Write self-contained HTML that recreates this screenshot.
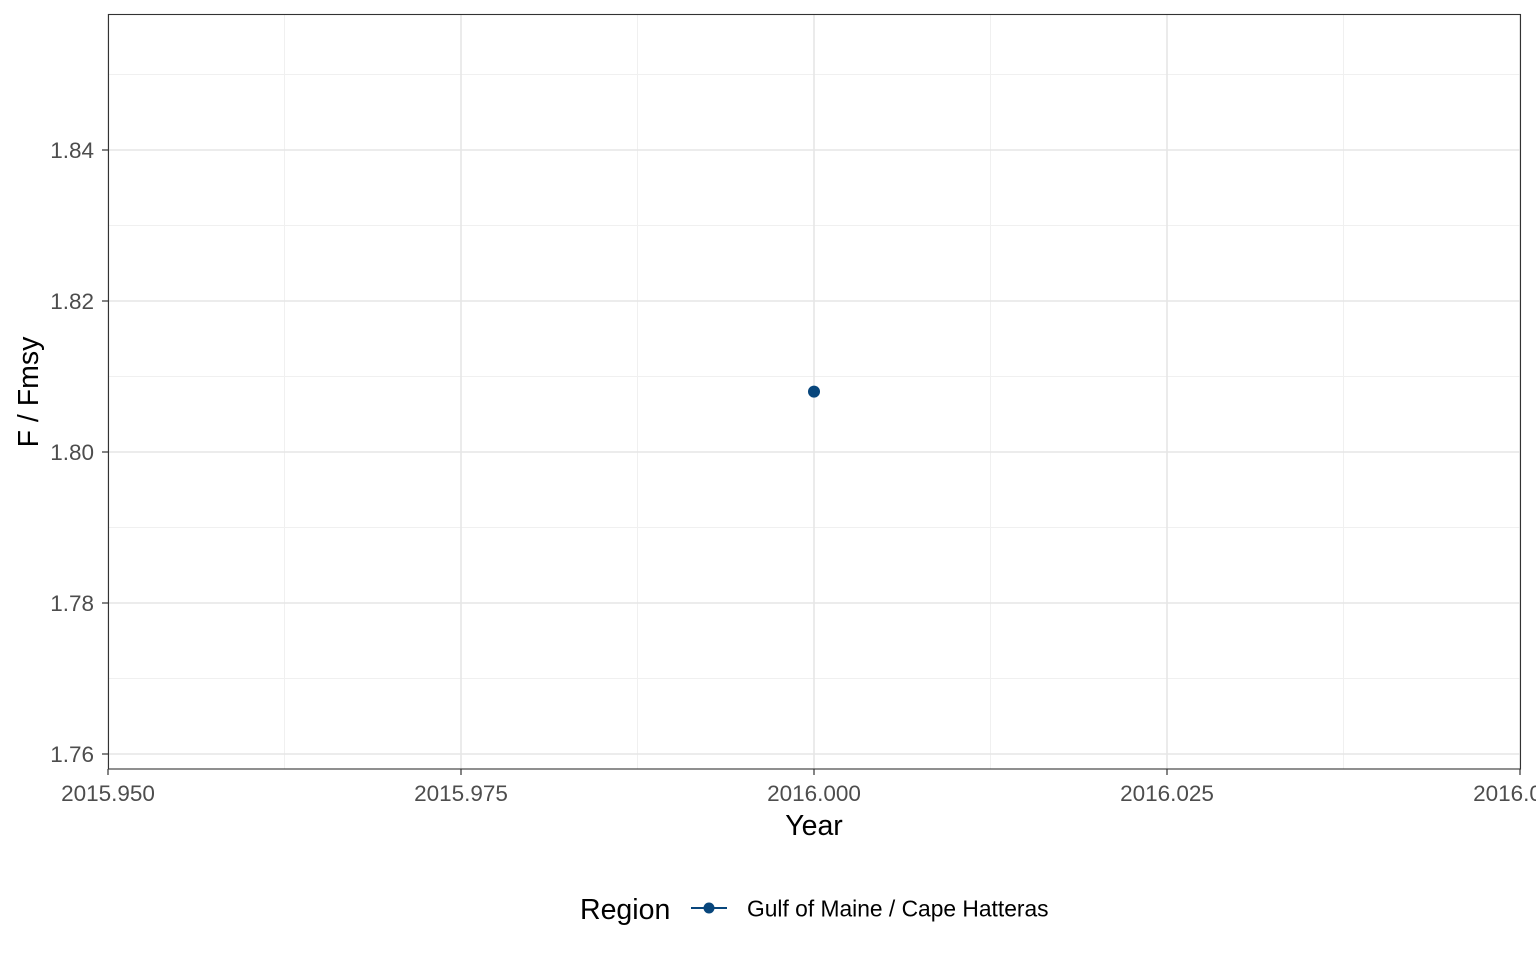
<!DOCTYPE html>
<html><head><meta charset="utf-8">
<style>
html,body{margin:0;padding:0;background:#fff;}
svg{display:block;font-family:"Liberation Sans",Arial,sans-serif;}
</style></head>
<body>
<svg id="chart" width="1536" height="960" viewBox="0 0 1536 960">
<g id="grid"></g>
<g id="marks"></g>
<rect x="108.5" y="14.5" width="1412" height="754.5" fill="none" stroke="#333" stroke-width="1.1"/>
<g id="axes"></g>
<text x="814" y="835" font-size="28.5" text-anchor="middle" fill="#000">Year</text>
<text transform="translate(38,392) rotate(-90)" font-size="28.5" text-anchor="middle" fill="#000">F / Fmsy</text>
<g>
<text x="580" y="919" font-size="28.5" fill="#000">Region</text>
<g>
<line x1="691" y1="908" x2="727" y2="908" stroke="#08467c" stroke-width="2"/>
<circle cx="709" cy="908" r="5.5" fill="#08467c"/>
<text x="747" y="916.5" font-size="22.8" fill="#000">Gulf of Maine / Cape Hatteras</text>
</g></g>
</svg>
<script>
const years=[2016.0];
const values=[1.808];
const xTicks=[2015.950,2015.975,2016.000,2016.025,2016.050];
const xTickLabels=["2015.950","2015.975","2016.000","2016.025","2016.050"];
const yTicks=[1.76,1.78,1.80,1.82,1.84];
const yTickLabels=["1.76","1.78","1.80","1.82","1.84"];
const NS="http://www.w3.org/2000/svg";
function xs(v){return 108+(v-2015.95)/0.1*1412;}
function ys(v){return 452-(v-1.80)/0.02*151;}
function mk(tag,attrs,parent){const e=document.createElementNS(NS,tag);for(const k in attrs)e.setAttribute(k,attrs[k]);parent.appendChild(e);return e;}
const grid=document.getElementById('grid'),axes=document.getElementById('axes'),marks=document.getElementById('marks');
for(let i=0;i<xTicks.length-1;i++){const v=(xTicks[i]+xTicks[i+1])/2;
const l=mk('line',{x1:xs(v),x2:xs(v),y1:14,y2:769,stroke:'#f0f0f0','stroke-width':1},grid);

}
for(let i=0;i<yTicks.length;i++){const v=yTicks[i]+0.01;const y=ys(v);if(y<14)continue;
const l=mk('line',{x1:108,x2:1521,y1:y,y2:y,stroke:'#f0f0f0','stroke-width':1},grid);

}
xTicks.forEach((v,i)=>{const x=xs(v);
const g=mk('line',{x1:x,x2:x,y1:14,y2:769,stroke:'#e6e6e6','stroke-width':1.6},grid);


const t=mk('line',{x1:x,x2:x,y1:769,y2:775,stroke:'#333','stroke-width':1.2},axes);


const tx=mk('text',{x:x,y:801,'font-size':22.5,'text-anchor':'middle',fill:'#4d4d4d'},axes);tx.textContent=xTickLabels[i];

});
yTicks.forEach((v,i)=>{const y=ys(v);
const g=mk('line',{x1:108,x2:1521,y1:y,y2:y,stroke:'#e6e6e6','stroke-width':1.6},grid);


const t=mk('line',{x1:102,x2:108,y1:y,y2:y,stroke:'#333','stroke-width':1.2},axes);


const tx=mk('text',{x:94,y:y+8,'font-size':22.5,'text-anchor':'end',fill:'#4d4d4d'},axes);tx.textContent=yTickLabels[i];

});
years.forEach((yr,i)=>{
const c=mk('circle',{cx:xs(yr),cy:ys(values[i]),r:6,fill:'#08467c'},marks);

});
</script>
</body></html>
